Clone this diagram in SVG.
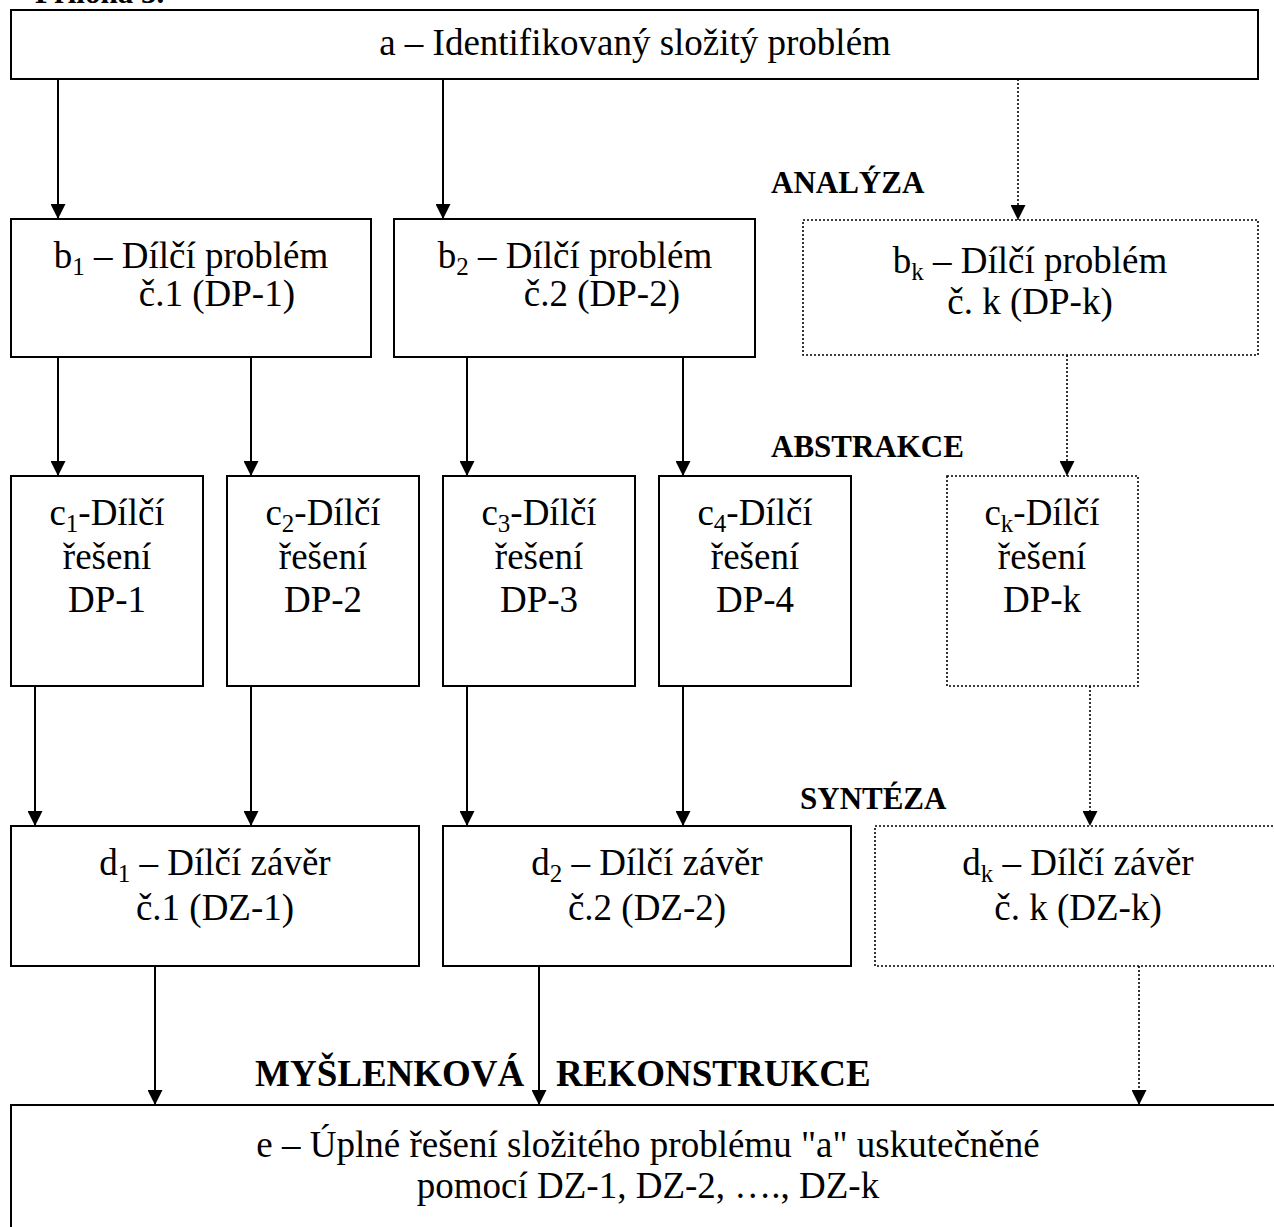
<svg xmlns="http://www.w3.org/2000/svg" width="1274" height="1227" viewBox="0 0 1274 1227">
<style>
  .box { fill: #fff; stroke: #000; stroke-width: 2; }
  .dbox { fill: #fff; stroke: #000; stroke-width: 1.6; stroke-dasharray: 2 2; }
  .t { font-family: "Liberation Serif", "Times New Roman", serif; font-size: 37px; fill: #000; }
  .c { text-anchor: middle; }
  .lbl { font-family: "Liberation Serif", "Times New Roman", serif; font-size: 31px; font-weight: bold; fill: #000; }
  .big { font-size: 37px; }
  .sub { font-size: 25px; }
  .line { stroke: #000; stroke-width: 2; fill: none; marker-end: url(#arr); }
  .dline { stroke: #000; stroke-width: 1.6; stroke-dasharray: 2 2; fill: none; marker-end: url(#arr); }
</style>
<defs>
  <marker id="arr" viewBox="0 0 15 15" refX="15" refY="7.5" markerWidth="15" markerHeight="15" markerUnits="userSpaceOnUse" orient="auto">
    <path d="M0,0 L15,7.5 L0,15 z" fill="#000"/>
  </marker>
</defs>
<rect width="1274" height="1227" fill="#fff"/>

<text class="lbl" x="35" y="3">Příloha 3.</text>

<g id="node-a">
  <rect class="box" x="11" y="10" width="1247" height="69"/>
  <text class="t c" x="635" y="55">a – Identifikovaný složitý problém</text>
</g>

<g id="node-b1">
  <rect class="box" x="11" y="219" width="360" height="138"/>
  <text class="t c" x="191" y="268">b<tspan class="sub" dy="7">1</tspan><tspan dy="-7"> – Dílčí problém</tspan></text>
  <text class="t" x="295" y="306" text-anchor="end">č.1 (DP-1)</text>
</g>
<g id="node-b2">
  <rect class="box" x="394" y="219" width="361" height="138"/>
  <text class="t c" x="575" y="268">b<tspan class="sub" dy="7">2</tspan><tspan dy="-7"> – Dílčí problém</tspan></text>
  <text class="t" x="680" y="306" text-anchor="end">č.2 (DP-2)</text>
</g>
<g id="node-bk">
  <rect class="dbox" x="803" y="220" width="455" height="135"/>
  <text class="t c" x="1030" y="273">b<tspan class="sub" dy="7">k</tspan><tspan dy="-7"> – Dílčí problém</tspan></text>
  <text class="t c" x="1030" y="314">č. k (DP-k)</text>
</g>

<g id="node-c1">
  <rect class="box" x="11" y="476" width="192" height="210"/>
  <text class="t c" x="107" y="525">c<tspan class="sub" dy="7">1</tspan><tspan dy="-7">-Dílčí</tspan></text>
  <text class="t c" x="107" y="569">řešení</text>
  <text class="t c" x="107" y="612">DP-1</text>
</g>
<g id="node-c2">
  <rect class="box" x="227" y="476" width="192" height="210"/>
  <text class="t c" x="323" y="525">c<tspan class="sub" dy="7">2</tspan><tspan dy="-7">-Dílčí</tspan></text>
  <text class="t c" x="323" y="569">řešení</text>
  <text class="t c" x="323" y="612">DP-2</text>
</g>
<g id="node-c3">
  <rect class="box" x="443" y="476" width="192" height="210"/>
  <text class="t c" x="539" y="525">c<tspan class="sub" dy="7">3</tspan><tspan dy="-7">-Dílčí</tspan></text>
  <text class="t c" x="539" y="569">řešení</text>
  <text class="t c" x="539" y="612">DP-3</text>
</g>
<g id="node-c4">
  <rect class="box" x="659" y="476" width="192" height="210"/>
  <text class="t c" x="755" y="525">c<tspan class="sub" dy="7">4</tspan><tspan dy="-7">-Dílčí</tspan></text>
  <text class="t c" x="755" y="569">řešení</text>
  <text class="t c" x="755" y="612">DP-4</text>
</g>
<g id="node-ck">
  <rect class="dbox" x="947" y="476" width="191" height="210"/>
  <text class="t c" x="1042" y="525">c<tspan class="sub" dy="7">k</tspan><tspan dy="-7">-Dílčí</tspan></text>
  <text class="t c" x="1042" y="569">řešení</text>
  <text class="t c" x="1042" y="612">DP-k</text>
</g>

<g id="node-d1">
  <rect class="box" x="11" y="826" width="408" height="140"/>
  <text class="t c" x="215" y="875">d<tspan class="sub" dy="7">1</tspan><tspan dy="-7"> – Dílčí závěr</tspan></text>
  <text class="t c" x="215" y="920">č.1 (DZ-1)</text>
</g>
<g id="node-d2">
  <rect class="box" x="443" y="826" width="408" height="140"/>
  <text class="t c" x="647" y="875">d<tspan class="sub" dy="7">2</tspan><tspan dy="-7"> – Dílčí závěr</tspan></text>
  <text class="t c" x="647" y="920">č.2 (DZ-2)</text>
</g>
<g id="node-dk">
  <rect class="dbox" x="875" y="826" width="410" height="140"/>
  <text class="t c" x="1078" y="875">d<tspan class="sub" dy="7">k</tspan><tspan dy="-7"> – Dílčí závěr</tspan></text>
  <text class="t c" x="1078" y="920">č. k (DZ-k)</text>
</g>

<g id="node-e">
  <rect class="box" x="11" y="1105" width="1280" height="200"/>
  <text class="t c" x="648" y="1157">e – Úplné řešení složitého problému "a" uskutečněné</text>
  <text class="t c" x="648" y="1198">pomocí DZ-1, DZ-2, …., DZ-k</text>
</g>

<g id="labels">
  <text class="lbl" x="771" y="193">ANALÝZA</text>
  <text class="lbl" x="771" y="457">ABSTRAKCE</text>
  <text class="lbl" x="800" y="809">SYNTÉZA</text>
  <text class="lbl big" x="255" y="1086">MYŠLENKOVÁ</text>
  <text class="lbl big" x="556" y="1086">REKONSTRUKCE</text>
</g>

<g id="connectors">
  <path class="line" d="M58,79 V219"/>
  <path class="line" d="M443,79 V219"/>
  <path class="line" d="M58,357 V476"/>
  <path class="line" d="M251,357 V476"/>
  <path class="line" d="M467,357 V476"/>
  <path class="line" d="M683,357 V476"/>
  <path class="line" d="M35,686 V826"/>
  <path class="line" d="M251,686 V826"/>
  <path class="line" d="M467,686 V826"/>
  <path class="line" d="M683,686 V826"/>
  <path class="line" d="M155,966 V1105"/>
  <path class="line" d="M539,966 V1105"/>
  <path class="dline" d="M1018,79 V220"/>
  <path class="dline" d="M1067,355 V476"/>
  <path class="dline" d="M1090,686 V826"/>
  <path class="dline" d="M1139,966 V1105"/>
</g>
</svg>
